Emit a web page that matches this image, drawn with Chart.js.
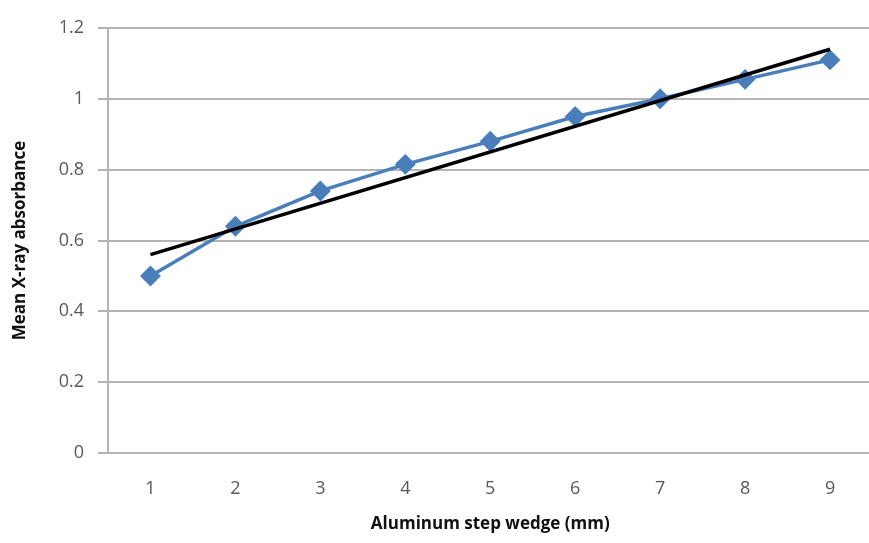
<!DOCTYPE html>
<html>
<head>
<meta charset="utf-8">
<script src="https://cdn.jsdelivr.net/npm/chart.js@4/dist/chart.umd.min.js"></script>
<style>
  html, body { margin: 0; padding: 0; background: #fff; overflow: hidden; }
  #wrap { width: 884px; height: 543px; }
</style>
</head>
<body>
<div id="wrap"><canvas id="wedgeChart" width="884" height="543"></canvas></div>
<script>
  const steps = ['1', '2', '3', '4', '5', '6', '7', '8', '9'];
  const absorbance = [0.50, 0.64, 0.74, 0.815, 0.88, 0.95, 1.00, 1.055, 1.11];
  // linear fit, only the two ends are needed
  const trend = [0.56, null, null, null, null, null, null, null, 1.14];
  const yTicks = [0, 0.2, 0.4, 0.6, 0.8, 1, 1.2];

  const blue = '#4a7ebb';
  const gridGrey = '#b4b4b4';
  const textGrey = '#595959';
  const font = '"Open Sans", "Liberation Sans", sans-serif';

  new Chart(document.getElementById('wedgeChart').getContext('2d'), {
    type: 'line',
    data: {
      labels: steps,
      datasets: [{
        label: 'Linear',
        data: trend,
        borderColor: '#000',
        borderWidth: 3.5,
        pointRadius: 0,
        spanGaps: true,
        tension: 0,
        order: 0
      }, {
        label: 'Mean absorbance',
        data: absorbance,
        borderColor: blue,
        backgroundColor: blue,
        borderWidth: 3.5,
        pointStyle: 'rectRot',
        pointRadius: 8,
        pointBackgroundColor: blue,
        pointBorderColor: blue,
        tension: 0,
        order: 1
      }]
    },
    options: {
      responsive: false,
      animation: false,
      layout: { padding: { top: 28, left: 0, right: 0, bottom: 0 } },
      plugins: { legend: { display: false }, tooltip: { enabled: false } },
      scales: {
        x: {
          offset: true,
          grid: { display: false, drawTicks: false },
          border: { display: true, color: gridGrey, width: 2 },
          ticks: { color: textGrey, font: { family: font, size: 18 }, padding: 25 },
          title: {
            display: true,
            text: 'Aluminum step wedge (mm)',
            color: '#111',
            font: { family: font, size: 17, weight: 'bold' },
            padding: { top: 0, bottom: 9 }
          },
          afterFit: s => { s.height = 90; }
        },
        y: {
          min: 0,
          max: 1.2,
          afterBuildTicks: s => { s.ticks = yTicks.map(v => ({ value: v })); },
          grid: { color: gridGrey, lineWidth: 2, tickLength: 10 },
          border: { display: true, color: gridGrey, width: 2 },
          ticks: {
            color: textGrey,
            font: { family: font, size: 18 },
            padding: 14,
            callback: v => String(v)
          },
          title: {
            display: true,
            text: 'Mean X-ray absorbance',
            color: '#111',
            font: { family: font, size: 17, weight: 'bold' },
            padding: { top: 10, bottom: 0 }
          },
          afterFit: s => { s.width = 108; }
        }
      }
    }
  });
</script>
</body>
</html>
